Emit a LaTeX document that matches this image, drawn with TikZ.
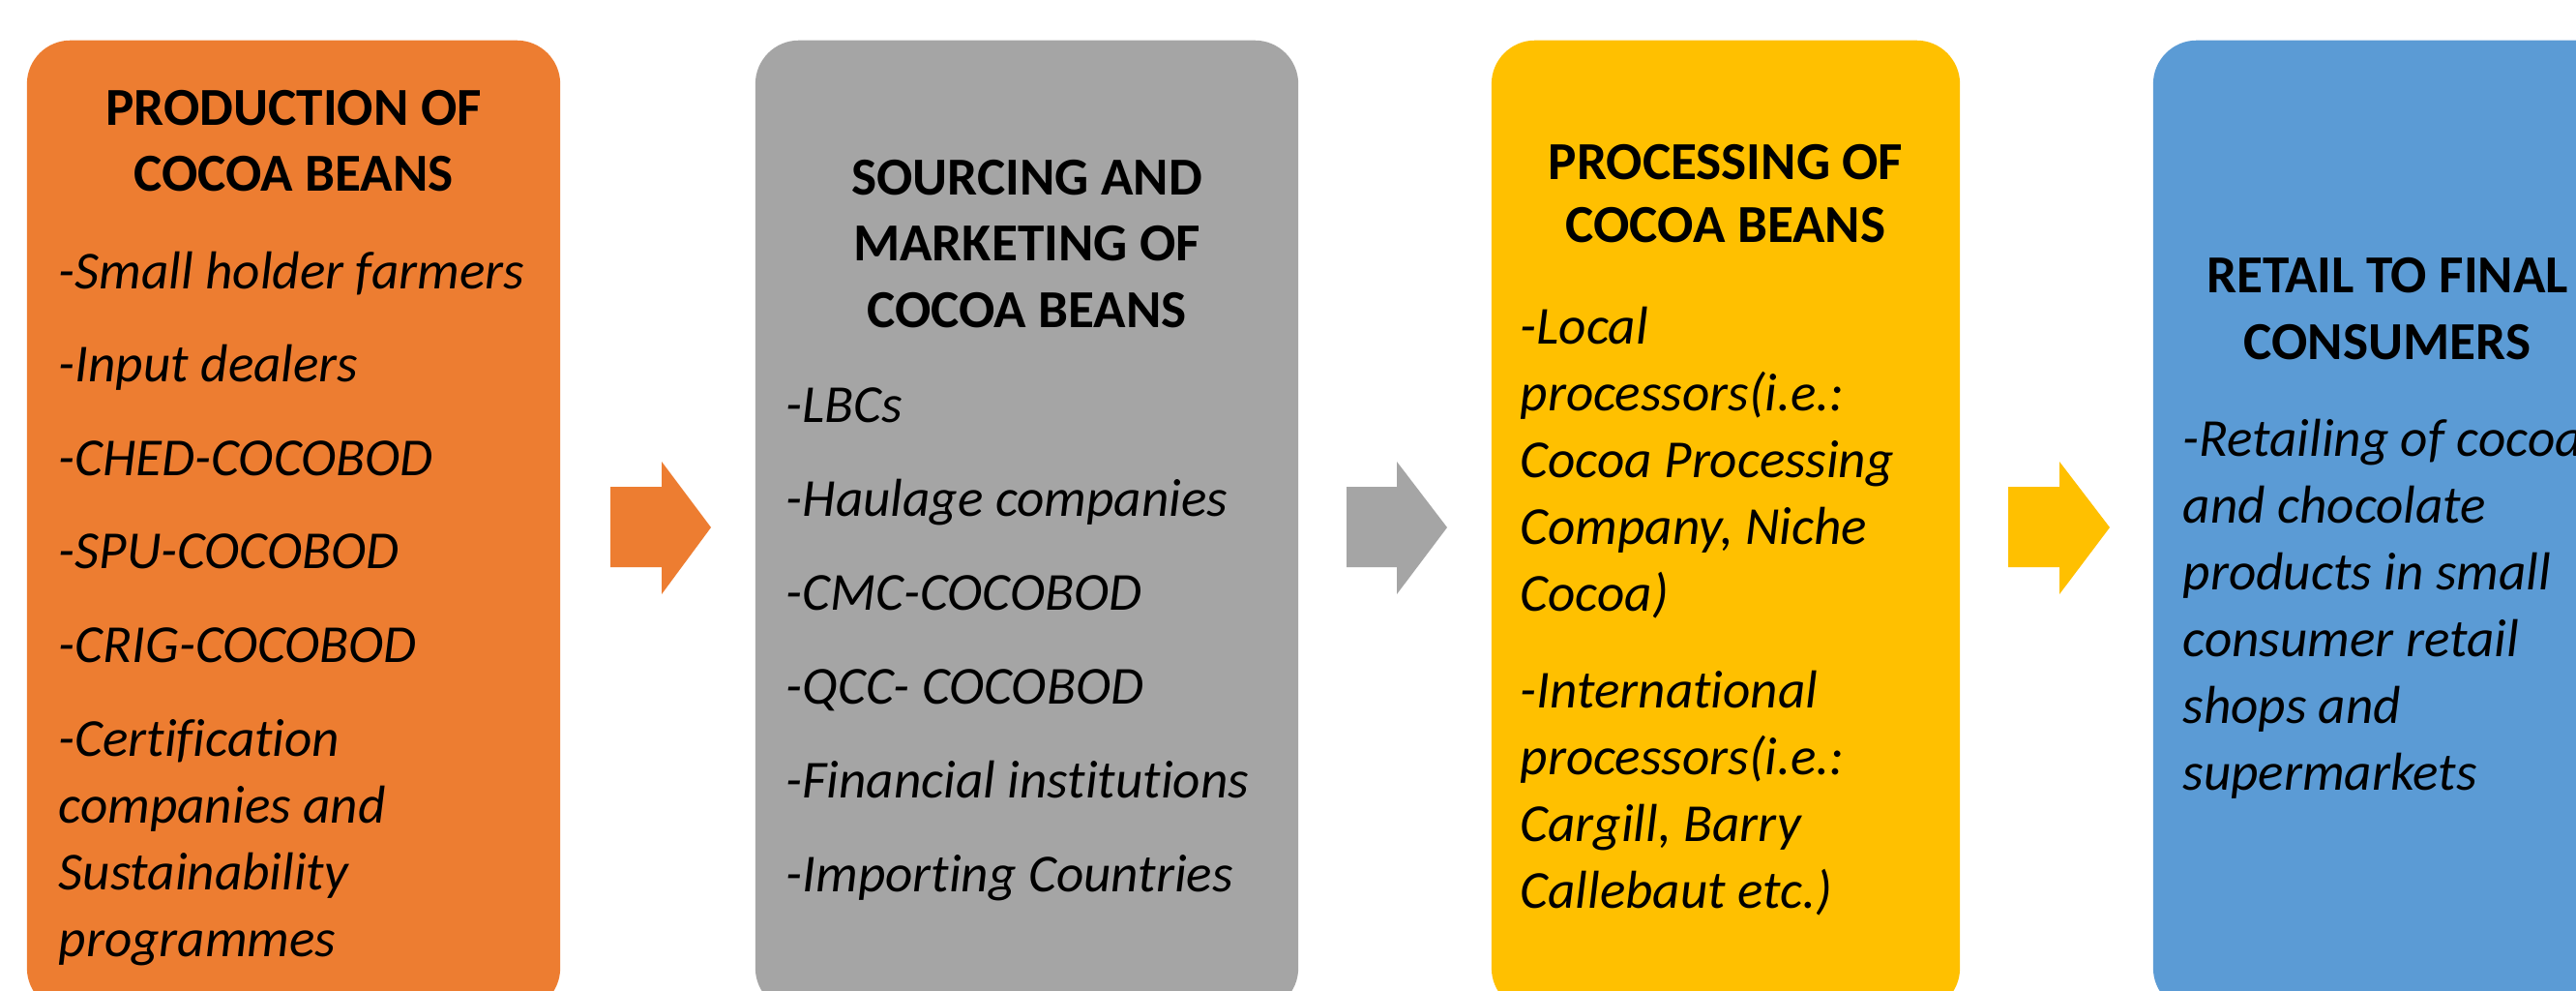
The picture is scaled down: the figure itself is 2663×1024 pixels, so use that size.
\documentclass[tikz,border=0pt]{standalone}
\usepackage{fontspec}
\setmainfont{Carlito}[Ligatures={NoCommon}]
\definecolor{corange}{HTML}{ED7D31}
\definecolor{cgray}{HTML}{A5A5A5}
\definecolor{cyellow}{HTML}{FFC000}
\definecolor{cblue}{HTML}{5B9BD5}
\newcommand\hdfont{\fontsize{15.7}{19.6}\selectfont\bfseries}
\newcommand\itfont{\fontsize{15.7}{19.6}\selectfont\itshape}
\begin{document}
\begin{tikzpicture}[x=0.01cm,y=-0.01cm,
  stagebox/.style={rounded corners=0.45cm, inner sep=0, draw=none},
  headline/.style={anchor=base, inner sep=0, font=\hdfont},
  itemline/.style={anchor=base west, inner sep=0, font=\itfont}]
\useasboundingbox (0,0) rectangle (2663,1024);
\clip (0,0) rectangle (2663,1024);
\fill[white] (0,0) rectangle (2663,1024);

% stage boxes
\node[stagebox, fill=corange, minimum width=5.51cm, minimum height=10.03cm] (b1) at (303.5,543.5) {};
\node[stagebox, fill=cgray, minimum width=5.61cm, minimum height=10.03cm] (b2) at (1061.5,543.5) {};
\node[stagebox, fill=cyellow, minimum width=4.84cm, minimum height=10.03cm] (b3) at (1784,543.5) {};
\node[stagebox, fill=cblue, minimum width=4.84cm, minimum height=10.03cm] (b4) at (2468,543.5) {};

% block arrows
\fill[corange] (631,503) -- (684,503) -- (684,477) -- (735,545) -- (684,614) -- (684,586) -- (631,586) -- cycle;
\fill[cgray] (1392,503) -- (1444,503) -- (1444,477) -- (1496,545) -- (1444,614) -- (1444,586) -- (1392,586) -- cycle;
\fill[cyellow] (2076,503) -- (2129,503) -- (2129,477) -- (2181,545) -- (2129,614) -- (2129,586) -- (2076,586) -- cycle;

% box 1
\node[headline] (h1a) at (303.5,129) {PRODUCTION OF};
\node[headline] (h1b) at (303.5,197) {COCOA BEANS};
\node[itemline] (i1a) at (60,298) {-Small holder farmers};
\node[itemline] (i1b) at (60,394) {-Input dealers};
\node[itemline] (i1c) at (60,491) {-CHED-COCOBOD};
\node[itemline] (i1d) at (60,587) {-SPU-COCOBOD};
\node[itemline] (i1e) at (60,684) {-CRIG-COCOBOD};
\node[itemline] (i1f) at (60,781) {-Certification};
\node[itemline] (i1g) at (60,850) {companies and};
\node[itemline] (i1h) at (60,919) {Sustainability};
\node[itemline] (i1i) at (60,988) {programmes};

% box 2
\node[headline] (h2a) at (1061.5,201) {SOURCING AND};
\node[headline] (h2b) at (1061.5,269) {MARKETING OF};
\node[headline] (h2c) at (1061.5,338) {COCOA BEANS};
\node[itemline] (i2a) at (812,436) {-LBCs};
\node[itemline] (i2b) at (812,533) {-Haulage companies};
\node[itemline] (i2c) at (812,630) {-CMC-COCOBOD};
\node[itemline] (i2d) at (812,727) {-QCC- COCOBOD};
\node[itemline] (i2e) at (812,824) {-Financial institutions};
\node[itemline] (i2f) at (812,921) {-Importing Countries};

% box 3
\node[headline] (h3a) at (1784,185) {PROCESSING OF};
\node[headline] (h3b) at (1784,250) {COCOA BEANS};
\node[itemline] (i3a) at (1571,355) {-Local};
\node[itemline] (i3b) at (1571,424) {processors(i.e.:};
\node[itemline] (i3c) at (1571,493) {Cocoa Processing};
\node[itemline] (i3d) at (1571,562) {Company, Niche};
\node[itemline] (i3e) at (1571,631) {Cocoa)};
\node[itemline] (i3f) at (1571,731) {-International};
\node[itemline] (i3g) at (1571,800) {processors(i.e.:};
\node[itemline] (i3h) at (1571,869) {Cargill, Barry};
\node[itemline] (i3i) at (1571,938) {Callebaut etc.)};

% box 4
\node[headline] (h4a) at (2468,302) {RETAIL TO FINAL};
\node[headline] (h4b) at (2468,371) {CONSUMERS};
\node[itemline] (i4a) at (2256,471) {-Retailing of cocoa};
\node[itemline] (i4b) at (2256,540) {and chocolate};
\node[itemline] (i4c) at (2256,609) {products in small};
\node[itemline] (i4d) at (2256,678) {consumer retail};
\node[itemline] (i4e) at (2256,747) {shops and};
\node[itemline] (i4f) at (2256,816) {supermarkets};
\end{tikzpicture}
\end{document}
